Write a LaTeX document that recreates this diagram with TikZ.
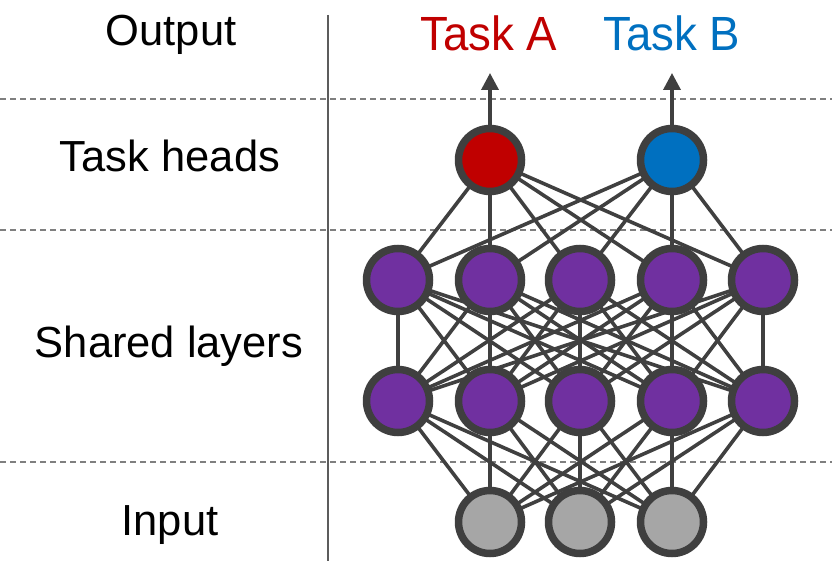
\documentclass[tikz,border=0pt]{standalone}
\usepackage{fontspec}
\setmainfont{Liberation Sans}
\usetikzlibrary{arrows.meta}
\definecolor{edgegray}{HTML}{404040}
\definecolor{bordergray}{HTML}{3F3F3F}
\definecolor{sepgray}{HTML}{7F7F7F}
\definecolor{taskred}{HTML}{C00000}
\definecolor{taskblue}{HTML}{0070C0}
\definecolor{sharedpurple}{HTML}{7030A0}
\definecolor{inputgray}{HTML}{A6A6A6}
\pgfdeclarelayer{background}
\pgfsetlayers{background,main}
\begin{document}
\begin{tikzpicture}[x=1pt,y=-1pt,
  neuron/.style={circle,draw=bordergray,line width=7.5pt,minimum size=63pt,inner sep=0pt,outer sep=0pt},
  conn/.style={draw=edgegray,line width=3.6pt},
  sepline/.style={draw=sepgray,line width=1.3pt,dash pattern=on 6pt off 4pt},
  divider/.style={draw=bordergray!85,line width=1.5pt},
  lab/.style={anchor=base,inner sep=0pt,font=\fontsize{43.5}{50}\selectfont},
  tasklab/.style={anchor=base,inner sep=0pt,font=\fontsize{48}{56}\selectfont}]
\useasboundingbox (0,0) rectangle (832,561);

% labels
\node[lab] (lout) at (171,46) {Output};
\node[lab] (lheads) at (170,172) {Task heads};
\node[lab] (lshared) at (169,357) {Shared layers};
\node[lab] (linput) at (170,535) {Input};
\node[tasklab,text=taskred,xscale=0.95] (ta) at (489,51) {Task A};
\node[tasklab,text=taskblue,xscale=0.95] (tb) at (672,51) {Task B};

% separators
\coordinate (s1l) at (0,99);   \coordinate (s1r) at (832,99);
\coordinate (s2l) at (0,230);  \coordinate (s2r) at (832,230);
\coordinate (s3l) at (0,462);  \coordinate (s3r) at (832,462);
\coordinate (vt) at (328,15);  \coordinate (vb) at (328,561);

% nodes
\node[neuron,fill=taskred] (hA) at (490,160) {};
\node[neuron,fill=taskblue] (hB) at (672,160) {};
\foreach \i/\x in {1/398,2/490,3/580,4/672,5/763}{
  \node[neuron,fill=sharedpurple] (a\i) at (\x,280) {};
  \node[neuron,fill=sharedpurple] (b\i) at (\x,401) {};
}
\foreach \i/\x in {1/490,2/580,3/672}{
  \node[neuron,fill=inputgray] (in\i) at (\x,522) {};
}
\coordinate (tA) at (490,73);
\coordinate (tB) at (672,73);

\begin{pgfonlayer}{background}
  \draw[sepline] (s1l) -- (s1r);
  \draw[sepline] (s2l) -- (s2r);
  \draw[sepline] (s3l) -- (s3r);
  \draw[divider] (vt) -- (vb);
  \foreach \i in {1,...,5}{
    \draw[conn] (hA.center) -- (a\i.center);
    \draw[conn] (hB.center) -- (a\i.center);
    \foreach \j in {1,...,5}{
      \draw[conn] (a\i.center) -- (b\j.center);
    }
    \foreach \k in {1,2,3}{
      \draw[conn] (b\i.center) -- (in\k.center);
    }
  }
\end{pgfonlayer}

\draw[conn,line width=3.6pt,-{Triangle[length=17pt,width=17pt]}] (hA) -- (tA);
\draw[conn,line width=3.6pt,-{Triangle[length=17pt,width=17pt]}] (hB) -- (tB);
\end{tikzpicture}
\end{document}
